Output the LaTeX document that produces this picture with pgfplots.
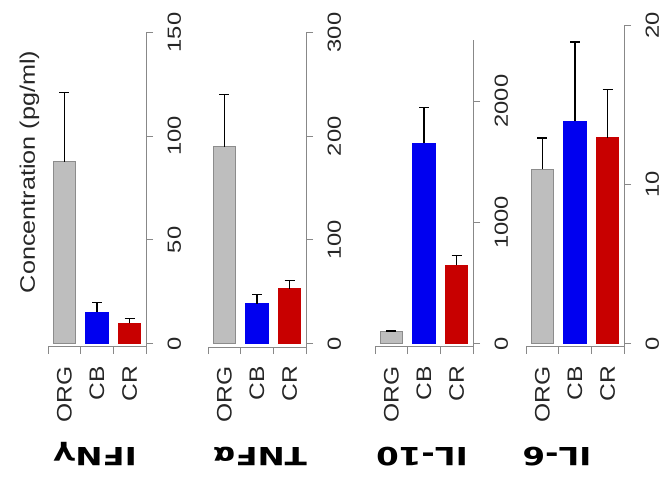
\documentclass[border=0pt]{standalone}
\usepackage{fontspec}
\setmainfont{Liberation Sans}
\newfontfamily\titlefont{DejaVu Sans}
\usepackage{pgfplots}
\pgfplotsset{compat=1.18}
\definecolor{barGray}{HTML}{BEBEBE}
\definecolor{barEdge}{HTML}{8C8C8C}
\definecolor{barBlue}{HTML}{0000F0}
\definecolor{barRed}{HTML}{C80000}
\definecolor{axGray}{HTML}{888888}
\newcommand{\ticksize}{\fontsize{19bp}{23bp}\selectfont}
\newcommand{\labsize}{\fontsize{21bp}{25bp}\selectfont}
\newcommand{\titsize}{\fontsize{25bp}{30bp}\selectfont}
\pgfplotsset{
  panel/.style={
    scale only axis, width=98bp,
    xmin=-0.5, xmax=2.5, enlargelimits=false, clip=false,
    axis x line*=bottom, axis y line*=right,
    axis line style={axGray, line width=1bp},
    tick align=outside,
    major tick length=7bp, minor tick length=7bp,
    xtick={0,1,2}, xticklabels={ORG,CB,CR},
    minor xtick={-0.5,0.5,1.5,2.5},
    major x tick style={draw=none},
    minor x tick style={axGray, line width=1bp},
    major y tick style={axGray, line width=1bp},
    /pgf/number format/1000 sep={},
    /pgf/number format/assume math mode=true,
    xticklabel style={font=\labsize, text=black!85, rotate=90, anchor=east, inner sep=0pt, xscale=1.17},
    xticklabel shift=12bp,
    yticklabel style={font=\ticksize, text=black!85, rotate=90, anchor=north, inner sep=0pt, xscale=1.25},
    yticklabel shift=14.5bp,
    ybar, bar width=22.5bp, bar shift=0pt,
    error bars/error bar style={black, line width=1.3bp},
    error bars/error mark=-,
    error bars/error mark options={rotate=90, black, line width=1.3bp, mark size=5bp},
  },
  gbar/.style={fill=barGray, draw=barEdge, line width=1bp},
  bbar/.style={fill=barBlue, draw=barBlue, line width=1bp},
  rbar/.style={fill=barRed, draw=barRed, line width=1bp},
}
\begin{document}
\begin{tikzpicture}
\path[use as bounding box] (0,0) rectangle (667bp,483bp);
% IFN gamma
\begin{axis}[panel, at={(48bp,136bp)}, anchor=south west,
  height=314.5bp, ymin=-1.7, ymax=150, ytick={0,50,100,150}]
\addplot[gbar, error bars/.cd, y dir=plus, y explicit] coordinates {(0,87.6) +- (0,33.5)};
\addplot[bbar, error bars/.cd, y dir=plus, y explicit] coordinates {(1,14.95) +- (0,4.8)};
\addplot[rbar, error bars/.cd, y dir=plus, y explicit] coordinates {(2,9.65) +- (0,2.4)};
\end{axis}
% TNF alpha
\begin{axis}[panel, at={(208bp,136bp)}, anchor=south west,
  height=314.5bp, ymin=-3.3, ymax=300, ytick={0,100,200,300}]
\addplot[gbar, error bars/.cd, y dir=plus, y explicit] coordinates {(0,189.6) +- (0,50.5)};
\addplot[bbar, error bars/.cd, y dir=plus, y explicit] coordinates {(1,38.6) +- (0,8.6)};
\addplot[rbar, error bars/.cd, y dir=plus, y explicit] coordinates {(2,53) +- (0,8)};
\end{axis}
% IL-10
\begin{axis}[panel, at={(375bp,136bp)}, anchor=south west,
  height=306.6bp, ymin=-28, ymax=2500, ytick={0,1000,2000}]
\addplot[gbar, error bars/.cd, y dir=plus, y explicit] coordinates {(0,101) +- (0,3)};
\addplot[bbar, error bars/.cd, y dir=plus, y explicit] coordinates {(1,1654) +- (0,292)};
\addplot[rbar, error bars/.cd, y dir=plus, y explicit] coordinates {(2,645) +- (0,83)};
\end{axis}
% IL-6
\begin{axis}[panel, at={(526bp,136bp)}, anchor=south west,
  height=321.7bp, ymin=-0.21, ymax=20, ytick={0,10,20}]
\addplot[gbar, error bars/.cd, y dir=plus, y explicit] coordinates {(0,10.95) +- (0,1.97)};
\addplot[bbar, error bars/.cd, y dir=plus, y explicit] coordinates {(1,13.96) +- (0,4.99)};
\addplot[rbar, error bars/.cd, y dir=plus, y explicit] coordinates {(2,12.94) +- (0,3.03)};
\end{axis}
% y label
\node[font=\labsize, text=black!85, rotate=90, xscale=1.2] at (29.5bp,311bp) {Concentration (pg/ml)};
% titles (upside down)
\begin{scope}[every node/.style={font=\titlefont\bfseries\titsize, rotate=180, xscale=1.3, anchor=base, inner sep=0pt}]
\node at (95bp,36bp) {IFNγ};
\node at (260bp,36bp) {TNFα};
\node at (422bp,36bp) {IL-10};
\node at (557bp,36bp) {IL-6};
\end{scope}
\end{tikzpicture}
\end{document}
